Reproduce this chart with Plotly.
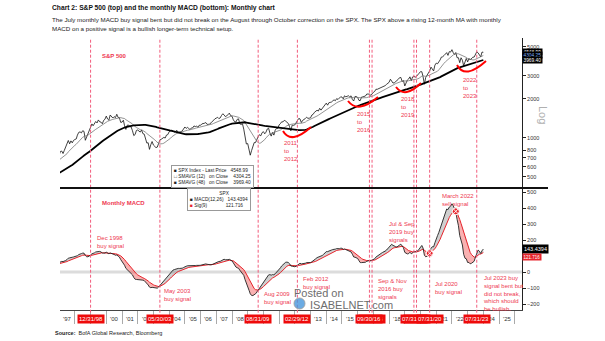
import numpy as np
import pandas as pd
import plotly.graph_objects as go

# ---------------------------------------------------------------------------
# S&P 500 month-end closes, Jan 1992 .. Dec 2023 (last value = latest print)
# ---------------------------------------------------------------------------
spx_close = [
    408.79, 412.70, 403.69, 414.95, 415.35, 408.14, 424.21, 414.03, 417.80, 418.68, 431.35, 435.71,   # 1992
    438.78, 443.38, 451.67, 440.19, 450.19, 450.53, 448.13, 463.56, 458.93, 467.83, 461.79, 466.45,   # 1993
    481.61, 467.14, 445.77, 450.91, 456.50, 444.27, 458.26, 475.49, 462.69, 472.35, 453.69, 459.27,   # 1994
    470.42, 487.39, 500.71, 514.71, 533.40, 544.75, 562.06, 561.88, 584.41, 581.50, 605.37, 615.93,   # 1995
    636.02, 640.43, 645.50, 654.17, 669.12, 670.63, 639.95, 651.99, 687.31, 705.27, 757.02, 740.74,   # 1996
    786.16, 790.82, 757.12, 801.34, 848.28, 885.14, 954.31, 899.47, 947.28, 914.62, 955.40, 970.43,   # 1997
    980.28, 1049.34, 1101.75, 1111.75, 1090.82, 1133.84, 1120.67, 957.28, 1017.01, 1098.67, 1163.63, 1229.23,  # 1998
    1279.64, 1238.33, 1286.37, 1335.18, 1301.84, 1372.71, 1328.72, 1320.41, 1282.71, 1362.93, 1388.91, 1469.25,  # 1999
    1394.46, 1366.42, 1498.58, 1452.43, 1420.60, 1454.60, 1430.83, 1517.68, 1436.51, 1429.40, 1314.95, 1320.28,  # 2000
    1366.01, 1239.94, 1160.33, 1249.46, 1255.82, 1224.42, 1211.23, 1133.58, 1040.94, 1059.78, 1139.45, 1148.08,  # 2001
    1130.20, 1106.73, 1147.39, 1076.92, 1067.14, 989.82, 911.62, 916.07, 815.28, 885.76, 936.31, 879.82,        # 2002
    855.70, 841.15, 848.18, 916.92, 963.59, 974.50, 990.31, 1008.01, 995.97, 1050.71, 1058.20, 1111.92,         # 2003
    1131.13, 1144.94, 1126.21, 1107.30, 1120.68, 1140.84, 1101.72, 1104.24, 1114.58, 1130.20, 1173.82, 1211.92,  # 2004
    1181.27, 1203.60, 1180.59, 1156.85, 1191.50, 1191.33, 1234.18, 1220.33, 1228.81, 1207.01, 1249.48, 1248.29,  # 2005
    1280.08, 1280.66, 1294.83, 1310.61, 1270.09, 1270.20, 1276.66, 1303.82, 1335.85, 1377.94, 1400.63, 1418.30,  # 2006
    1438.24, 1406.82, 1420.86, 1482.37, 1530.62, 1503.35, 1455.27, 1473.99, 1526.75, 1549.38, 1481.14, 1468.36,  # 2007
    1378.55, 1330.63, 1322.70, 1385.59, 1400.38, 1280.00, 1267.38, 1282.83, 1166.36, 968.75, 896.24, 903.25,    # 2008
    825.88, 735.09, 797.87, 872.81, 919.14, 919.32, 987.48, 1020.62, 1057.08, 1036.19, 1095.63, 1115.10,        # 2009
    1073.87, 1104.49, 1169.43, 1186.69, 1089.41, 1030.71, 1101.60, 1049.33, 1141.20, 1183.26, 1180.55, 1257.64,  # 2010
    1286.12, 1327.22, 1325.83, 1363.61, 1345.20, 1320.64, 1292.28, 1218.89, 1131.42, 1253.30, 1246.96, 1257.60,  # 2011
    1312.41, 1365.68, 1408.47, 1397.91, 1310.33, 1362.16, 1379.32, 1406.58, 1440.67, 1412.16, 1416.18, 1426.19,  # 2012
    1498.11, 1514.68, 1569.19, 1597.57, 1630.74, 1606.28, 1685.73, 1632.97, 1681.55, 1756.54, 1805.81, 1848.36,  # 2013
    1782.59, 1859.45, 1872.34, 1883.95, 1923.57, 1960.23, 1930.67, 2003.37, 1972.29, 2018.05, 2067.56, 2058.90,  # 2014
    1994.99, 2104.50, 2067.89, 2085.51, 2107.39, 2063.11, 2103.84, 1972.18, 1920.03, 2079.36, 2080.41, 2043.94,  # 2015
    1940.24, 1932.23, 2059.74, 2065.30, 2096.95, 2098.86, 2173.60, 2170.95, 2168.27, 2126.15, 2198.81, 2238.83,  # 2016
    2278.87, 2363.64, 2362.72, 2384.20, 2411.80, 2423.41, 2470.30, 2471.65, 2519.36, 2575.26, 2647.58, 2673.61,  # 2017
    2823.81, 2713.83, 2640.87, 2648.05, 2705.27, 2718.37, 2816.29, 2901.52, 2913.98, 2711.74, 2760.17, 2506.85,  # 2018
    2704.10, 2784.49, 2834.40, 2945.83, 2752.06, 2941.76, 2980.38, 2926.46, 2976.74, 3037.56, 3140.98, 3230.78,  # 2019
    3225.52, 2954.22, 2584.59, 2912.43, 3044.31, 3100.29, 3271.12, 3500.31, 3363.00, 3269.96, 3621.63, 3756.07,  # 2020
    3714.24, 3811.15, 3972.89, 4181.17, 4204.11, 4297.50, 4395.26, 4522.68, 4307.54, 4605.38, 4567.00, 4766.18,  # 2021
    4515.55, 4373.94, 4530.41, 4131.93, 4132.15, 3785.38, 4130.29, 3955.00, 3585.62, 3871.98, 4080.11, 3839.50,  # 2022
    4076.60, 3970.15, 4109.31, 4169.48, 4179.83, 4450.38, 4588.96, 4507.66, 4288.05, 4193.80, 4567.80, 4548.99,  # 2023
]
first_month = "1992-01-31"

# MACD signal dates (vertical markers)
signal_dates = ["1998-12-31", "2003-05-30", "2009-08-31", "2012-02-29", "2016-09-30",
                "2016-11-30", "2019-07-31", "2019-09-30", "2020-07-31", "2023-07-31"]
# date flags on the time axis, in drawing order (later flag sits on top)
flag_dates = ["1998-12-31", "2003-05-30", "2009-08-31", "2012-02-29", "2016-11-30",
              "2016-09-30", "2019-09-30", "2019-07-31", "2020-07-31", "2023-07-31"]
flag_labels = ["12/31/98", "05/30/03", "08/31/09", "02/29/12", "11/30/16",
               "09/30/16", "09/30/19", "07/31/19", "07/31/20", "07/31/23"]
circled_dates = ["2020-07-31", "2022-03-31"]

year_labels = list(range(1997, 2026))
price_ticks = [500, 600, 700, 800, 1000, 2000, 3000, 5000]
macd_ticks = [-200, -100, 0, 100, 200, 300, 400, 500]

# ---------------------------------------------------------------------------
dates = pd.date_range(first_month, periods=len(spx_close), freq=pd.offsets.MonthEnd())
close = pd.Series(spx_close, index=dates)
sma12 = close.rolling(12).mean()
sma48 = close.rolling(48).mean()
ema12 = close.ewm(span=12, adjust=False).mean()
ema26 = close.ewm(span=26, adjust=False).mean()
macd = ema12 - ema26
sig = macd.ewm(span=9, adjust=False).mean()

show = dates >= pd.Timestamp("1996-10-01")
d = dates[show]
c, s12, s48 = close[show], sma12[show], sma48[show]
m, sg = macd[show], sig[show]

RED = "#e8242c"
FLAG = "#ee0a0a"
PINK = "#f25c7c"
TXT = "#ee3850"
FONT = "Liberation Sans, Arial, sans-serif"

# figure geometry (pixels)
W, H = 605, 341
L, R, T, B = 60, 83, 38, 31
PW, PH = W - L - R, H - T - B
SPLIT = (310 - 188) / PH  # boundary between MACD (bottom) and price (top)
Y2_LO, Y2_HI = -237.5, 525
X_RANGE = ["1997-01-19", "2026-06-17"]


def px(xp, yp):
    """pixel position -> paper coordinates"""
    return (xp - L) / PW, (H - B - yp) / PH


fig = go.Figure()

# --- top panel: price and moving averages -------------------------------
fig.add_trace(go.Scatter(x=d, y=c, mode="lines", line=dict(color="#111", width=0.8),
                         yaxis="y", hoverinfo="skip"))
fig.add_trace(go.Scatter(x=d, y=s12, mode="lines", line=dict(color="#777", width=0.8),
                         yaxis="y", hoverinfo="skip"))
fig.add_trace(go.Scatter(x=d, y=s48, mode="lines", line=dict(color="#000", width=1.8),
                         yaxis="y", hoverinfo="skip"))

# --- bottom panel: MACD with shaded spread --------------------------------
upper = np.maximum(m.values, sg.values)
lower = np.minimum(m.values, sg.values)
fig.add_trace(go.Scatter(x=d, y=sg, mode="lines", line=dict(width=0), yaxis="y2",
                         hoverinfo="skip"))
fig.add_trace(go.Scatter(x=d, y=upper, mode="lines", line=dict(width=0), yaxis="y2",
                         fill="tonexty", fillcolor="rgba(120,120,120,0.35)", hoverinfo="skip"))
fig.add_trace(go.Scatter(x=d, y=sg, mode="lines", line=dict(width=0), yaxis="y2",
                         hoverinfo="skip"))
fig.add_trace(go.Scatter(x=d, y=lower, mode="lines", line=dict(width=0), yaxis="y2",
                         fill="tonexty", fillcolor="rgba(240,60,60,0.40)", hoverinfo="skip"))
fig.add_trace(go.Scatter(x=d, y=sg, mode="lines", line=dict(color=RED, width=1),
                         yaxis="y2", hoverinfo="skip"))
fig.add_trace(go.Scatter(x=d, y=m, mode="lines", line=dict(color="#222", width=0.9),
                         yaxis="y2", hoverinfo="skip"))
cd = pd.to_datetime(circled_dates)
fig.add_trace(go.Scatter(x=cd, y=sig.loc[cd], mode="markers", yaxis="y2",
                         marker=dict(symbol="circle-x", size=7, color=RED,
                                     line=dict(color="white", width=1)),
                         hoverinfo="skip"))
# small pointers on top of the date flags
fig.add_trace(go.Scatter(x=pd.to_datetime(flag_dates),
                         y=[Y2_LO - 14] * len(flag_dates), mode="markers", yaxis="y2",
                         cliponaxis=False,
                         marker=dict(symbol="triangle-up", size=6, color=FLAG),
                         hoverinfo="skip"))

shapes = []
# vertical dashed signal lines through both panels
for sd in signal_dates:
    shapes.append(dict(type="line", xref="x", yref="paper", x0=sd, x1=sd, y0=-0.01, y1=1,
                       line=dict(color=PINK, width=1, dash="3px,2px"), layer="above"))
# zero band in MACD
shapes.append(dict(type="line", xref="paper", yref="y2", x0=0, x1=1, y0=0, y1=0,
                   line=dict(color="#dcdcdc", width=3), layer="below"))
# separator between panels
shapes.append(dict(type="line", xref="paper", yref="paper", x0=0, x1=(548 - L) / PW,
                   y0=SPLIT, y1=SPLIT, line=dict(color="#111", width=2)))

# red smile arcs under the long-term average (pixel waypoints: start, control, end)
arcs = [((283, 131), (291, 145), (311, 127)),
        ((348, 101), (358, 114), (378, 97)),
        ((396, 87), (405, 99), (421, 83)),
        ((457, 65), (465, 80), (486, 61))]
for (a, ctl, b) in arcs:
    pa, pc, pb = px(*a), px(*ctl), px(*b)
    shapes.append(dict(type="path", xref="paper", yref="paper",
                       path=f"M {pa[0]},{pa[1]} Q {pc[0]},{pc[1]} {pb[0]},{pb[1]}",
                       line=dict(color="#ff0000", width=2)))
# watermark globe
g0, g1 = px(294, 298), px(305, 309)
shapes.append(dict(type="circle", xref="paper", yref="paper", x0=g0[0], x1=g1[0],
                   y0=g1[1], y1=g0[1], fillcolor="rgba(70,150,220,0.8)",
                   line=dict(color="rgba(160,160,160,0.9)", width=1)))

ann = []


def text(t, xp, yp, size=6, color=TXT, bold=False, xanchor="left", yanchor="top", **kw):
    x, y = px(xp, yp)
    if bold:
        t = f"<b>{t}</b>"
    ann.append(dict(text=t, x=x, y=y, xref="paper", yref="paper", showarrow=False,
                    xanchor=xanchor, yanchor=yanchor, align="left",
                    font=dict(family=FONT, size=size, color=color), **kw))


# title block
text("Chart 2: S&P 500 (top) and the monthly MACD (bottom): Monthly chart", 50, 8,
     size=6.7, color="#111", bold=True, yanchor="middle")
text("The July monthly MACD buy signal bent but did not break on the August through October "
     "correction on the SPX. The SPX above a rising 12-month MA with monthly", 50, 19,
     size=6.2, color="#222", yanchor="middle")
text("MACD on a positive signal is a bullish longer-term technical setup.", 50, 29,
     size=6.2, color="#222", yanchor="middle")
text("<b>Source:</b>  BofA Global Research, Bloomberg", 53, 333, size=5.5, color="#222",
     yanchor="middle")

# panel labels
text("S&P 500", 100, 51, size=6, bold=True)
text("Monthly MACD", 100, 198, size=6, bold=True)

# arc captions
text("2011<br>to<br>2012", 282, 138)
text("2015<br>to<br>2016", 355, 109)
text("2018<br>to<br>2019", 399, 94)
text("2022<br>to<br>2023", 461, 75)

# MACD signal notes
text("Dec 1998<br>buy signal", 95, 233)
text("May 2003<br>buy signal", 162, 286)
text("Aug 2009<br>buy signal", 262, 289)
text("Feb 2012<br>buy signal", 301, 274)
text("Sep & Nov<br>2016 buy<br>signals", 376, 276)
text("Jul & Sep<br>2019 buy<br>signals", 387, 219)
text("Jul 2020<br>buy signal", 433, 279)
text("March 2022<br>sell signal", 440, 191)
text("Jul 2023 buy<br>signal bent but<br>did not break,<br>which should<br>be bullish.", 481, 273)

# axis caption
text("Log", 543, 115, size=11, color="#b0b0b0", xanchor="center", yanchor="middle",
     textangle=90)

# watermark
text("Posted on", 292, 293, size=11, color="#6d6d6d", yanchor="middle")
text("ISABELNET.com", 308, 305, size=11, color="#6d6d6d", yanchor="middle")

# legends
lx, ly = px(212, 176)
ann.append(dict(
    text=(f"■ SPX Index - Last Price   {close.iloc[-1]:.2f}<br>"
          f"□ SMAVG (12)   on Close    {sma12.iloc[-1]:.2f}<br>"
          f"■ SMAVG (48)   on Close    {sma48.iloc[-1]:.2f}"),
    x=lx, y=ly, xref="paper", yref="paper", showarrow=False, align="left",
    xanchor="center", yanchor="middle", bgcolor="white", bordercolor="#999",
    borderwidth=1, borderpad=2, font=dict(family=FONT, size=4.8, color="#222")))
mx, my = px(219, 199)
ann.append(dict(
    text=("&nbsp;" * 22 + "SPX<br>"
          f"■ MACD(12,26)   {macd.iloc[-1]:.4f}<br>"
          f"<span style='color:{RED}'>■</span> Sig(9)              {sig.iloc[-1]:.3f}"),
    x=mx, y=my, xref="paper", yref="paper", showarrow=False, align="left",
    xanchor="center", yanchor="middle", bgcolor="white", bordercolor="#999",
    borderwidth=1, borderpad=2, font=dict(family=FONT, size=4.8, color="#222")))

# last-value tags on the right axes
for val, fc in [(close.iloc[-1], "white"), (sma12.iloc[-1], "#7fb2ff"), (sma48.iloc[-1], "white")]:
    ann.append(dict(text=f"{val:.2f}", x=1.0, y=np.log10(val), xref="paper", yref="y",
                    xanchor="left", yanchor="middle", showarrow=False, bgcolor="#000",
                    borderpad=0.5, font=dict(family=FONT, size=4.8, color=fc)))
ann.append(dict(text=f"{macd.iloc[-1]:.4f}", x=1.0, y=macd.iloc[-1], xref="paper", yref="y2",
                xanchor="left", yanchor="middle", showarrow=False, bgcolor="#000",
                borderpad=1, font=dict(family=FONT, size=5.5, color="white")))
ann.append(dict(text=f"{sig.iloc[-1]:.3f}", x=1.0, y=sig.iloc[-1], xref="paper", yref="y2",
                xanchor="left", yanchor="top", showarrow=False, bgcolor=RED,
                borderpad=0.5, font=dict(family=FONT, size=4.5, color="white")))

# year labels (mid-year), leaving out the ones hidden under a date flag
x0_ts, x1_ts = pd.Timestamp(X_RANGE[0]), pd.Timestamp(X_RANGE[1])
span_days = (x1_ts - x0_ts).days


def to_px(ts):
    return L + (pd.Timestamp(ts) - x0_ts).days / span_days * PW


flag_px = [to_px(fd) for fd in flag_dates]
for yr in year_labels:
    mid = pd.Timestamp(f"{yr}-07-01")
    if min(abs(to_px(mid) - f) for f in flag_px) < 14:
        continue
    ann.append(dict(text=f"'{yr % 100:02d}", x=mid, xref="x", y=px(0, 319)[1], yref="paper",
                    xanchor="center", yanchor="middle", showarrow=False,
                    font=dict(family=FONT, size=6, color="#333")))

# red date flags on the time axis
for fd, fl in zip(flag_dates, flag_labels):
    ann.append(dict(text=fl, x=fd, xref="x", y=px(0, 319)[1], yref="paper",
                    xanchor="center", yanchor="middle", showarrow=False, bgcolor=FLAG,
                    borderpad=1, font=dict(family=FONT, size=6, color="white")))

fig.update_layout(
    width=W, height=H, margin=dict(l=L, r=R, t=T, b=B),
    paper_bgcolor="white", plot_bgcolor="white", showlegend=False,
    font=dict(family=FONT, color="#333"),
    xaxis=dict(type="date", range=X_RANGE, anchor="y2", domain=[0, 1],
               showline=True, linecolor="#444", linewidth=1, showgrid=False, zeroline=False,
               ticks="outside", ticklen=13, tickcolor="#aaa", tickwidth=1,
               dtick="M12", tick0="1997-01-01", showticklabels=False),
    yaxis=dict(type="log", domain=[SPLIT, 1], range=[2.614, 3.768], side="right", anchor="x",
               showline=True, linecolor="#222", linewidth=1, showgrid=False, zeroline=False,
               ticks="outside", ticklen=3, tickcolor="#222", tickvals=price_ticks,
               ticktext=[str(v) for v in price_ticks], tickfont=dict(size=5.5, color="#333")),
    yaxis2=dict(domain=[0, SPLIT], range=[Y2_LO, Y2_HI], side="right", anchor="x",
                showline=True, linecolor="#222", linewidth=1, showgrid=False, zeroline=False,
                ticks="outside", ticklen=3, tickcolor="#222", tickvals=macd_ticks,
                tickfont=dict(size=5.5, color="#333")),
    shapes=shapes, annotations=ann,
)

fig.write_html("out.html")
